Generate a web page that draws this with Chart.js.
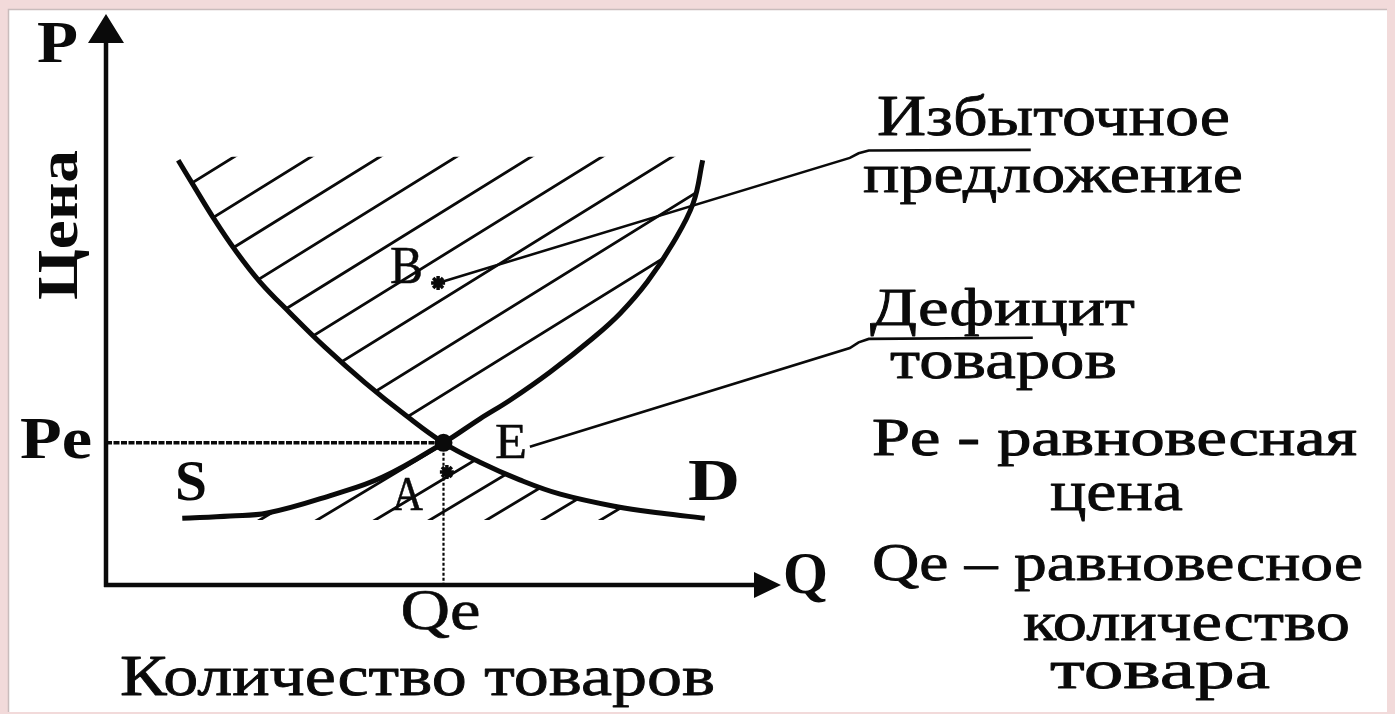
<!DOCTYPE html>
<html><head><meta charset="utf-8">
<script src="https://cdn.jsdelivr.net/npm/chart.js@4.4.1/dist/chart.umd.min.js"></script>
<style>html,body{margin:0;padding:0;background:#f2dada;overflow:hidden}canvas{display:block}</style>
</head><body>
<canvas id="c" width="1395" height="714"></canvas>
<script>
// ---------- data (Q = quantity, P = price) ----------
const demandQ = [1.07, 1.32, 1.59, 1.91, 2.28, 2.73, 3.24, 3.84, 4.43, 5.00, 5.54, 6.13, 6.73, 7.57, 8.21, 8.87];
const demandP = [7.44, 6.95, 6.43, 5.87, 5.31, 4.76, 4.17, 3.54, 2.98, 2.49, 2.15, 1.84, 1.59, 1.37, 1.26, 1.17];
const supplyQ = [1.13, 1.84, 2.39, 3.36, 4.10, 5.00, 5.54, 5.99, 6.58, 7.22, 7.62, 8.02, 8.40, 8.70, 8.84];
const supplyP = [1.17, 1.21, 1.26, 1.58, 1.89, 2.49, 2.91, 3.24, 3.73, 4.33, 4.76, 5.31, 5.99, 6.69, 7.44];
const Qe = 5.00, Pe = 2.49;
const pointBQ = 4.92, pointBP = 5.29;
const pointAQ = 5.05, pointAP = 1.98;
const axisMaxQ = 10, axisMaxP = 10;
// hatch lines: Q where each line meets the top / bottom edge of its hatched zone
const surplusHatchQ = [1.90, 3.04, 4.06, 5.19, 6.30, 7.35, 8.39, 9.60, 10.68];
const surplusTopP = 7.50;
const deficitHatchQ = [2.28, 3.13, 3.99, 4.80, 5.64, 6.47, 7.33];
const deficitBottomP = 1.14;
// leader lines from B and E to the captions
const leaderBQ = [4.92, 11.02, 11.15, 11.30, 13.70];
const leaderBP = [5.29, 7.48, 7.56, 7.61, 7.62];
const leaderEQ = [6.28, 11.02, 11.15, 11.30, 13.73];
const leaderEP = [2.42, 4.15, 4.25, 4.31, 4.33];

// ---------- layout ----------
const W = 1395, H = 714;
const ORIGIN_X = 106, ORIGIN_Y = 585, PX_Q = 67.5, PX_P = 57.1;
const FONT = '"Liberation Serif", "DejaVu Serif", serif';
const INK = '#0a0a0a';

const zip = (xs, ys) => xs.map((x, i) => ({x, y: ys[i]}));

function follow(ctx, pts, from, to) {
  if (to > from) {
    for (let i = from + 1; i <= to; i++) {
      const a = pts[i - 1], b = pts[i];
      ctx.bezierCurveTo(a.cp2x ?? a.x, a.cp2y ?? a.y, b.cp1x ?? b.x, b.cp1y ?? b.y, b.x, b.y);
    }
  } else {
    for (let i = from - 1; i >= to; i--) {
      const a = pts[i + 1], b = pts[i];
      ctx.bezierCurveTo(a.cp1x ?? a.x, a.cp1y ?? a.y, b.cp2x ?? b.x, b.cp2y ?? b.y, b.x, b.y);
    }
  }
}

function fitText(ctx, txt, left, base, width, size, bold, heavy) {
  ctx.font = (bold ? 'bold ' : '') + size + 'px ' + FONT;
  const w = ctx.measureText(txt).width;
  ctx.save();
  ctx.translate(left, base);
  ctx.scale(width / w, 1);
  ctx.fillText(txt, 0, 0);
  if (heavy) { ctx.lineWidth = heavy; ctx.lineJoin = 'round'; ctx.strokeText(txt, 0, 0); }
  ctx.restore();
}

const backgroundPlugin = {
  id: 'bg',
  beforeDraw(chart) {
    const ctx = chart.ctx;
    ctx.save();
    ctx.fillStyle = '#f2dada';
    ctx.fillRect(0, 0, W, H);
    ctx.fillStyle = '#ffffff';
    ctx.fillRect(8, 9, 1379, 703);
    ctx.strokeStyle = '#c9bcbc';
    ctx.lineWidth = 1.5;
    ctx.beginPath();
    ctx.moveTo(8.5, 712); ctx.lineTo(8.5, 9.5); ctx.lineTo(1387, 9.5);
    ctx.stroke();
    ctx.restore();
  }
};

const IDX_DEMAND = 3, IDX_SUPPLY = 4;

const hatchPlugin = {
  id: 'hatch',
  beforeDatasetsDraw(chart) {
    const ctx = chart.ctx, xs = chart.scales.x, ys = chart.scales.y;
    const D = chart.getDatasetMeta(IDX_DEMAND).data;
    const S = chart.getDatasetMeta(IDX_SUPPLY).data;
    const iED = demandQ.indexOf(Qe), iES = supplyQ.indexOf(Qe);
    const px = q => xs.getPixelForValue(q), py = p => ys.getPixelForValue(p);
    ctx.save();
    ctx.strokeStyle = INK; ctx.lineWidth = 2.8; ctx.lineCap = 'round';

    // surplus zone (above both curves)
    const slopeU = 0.62 * PX_Q / PX_P;
    const yTop = py(surplusTopP);
    ctx.save();
    ctx.beginPath();
    ctx.moveTo(D[0].x, yTop); ctx.lineTo(D[0].x, D[0].y);
    follow(ctx, D, 0, iED);
    follow(ctx, S, iES, S.length - 1);
    ctx.lineTo(S[S.length - 1].x, yTop);
    ctx.closePath();
    ctx.clip();
    ctx.beginPath();
    surplusHatchQ.forEach(q => {
      ctx.moveTo(px(q + 0.5), py(surplusTopP + 0.5 * slopeU));
      ctx.lineTo(px(q - 9), py(surplusTopP - 9 * slopeU));
    });
    ctx.stroke();
    ctx.restore();

    // deficit zone (below both curves)
    const slopeL = 0.60 * PX_Q / PX_P;
    const yBot = py(deficitBottomP);
    ctx.save();
    ctx.beginPath();
    ctx.moveTo(S[0].x, yBot); ctx.lineTo(S[0].x, S[0].y);
    follow(ctx, S, 0, iES);
    follow(ctx, D, iED, D.length - 1);
    ctx.lineTo(D[D.length - 1].x, yBot);
    ctx.closePath();
    ctx.clip();
    ctx.beginPath();
    deficitHatchQ.forEach(q => {
      ctx.moveTo(px(q - 0.5), py(deficitBottomP - 0.5 * slopeL));
      ctx.lineTo(px(q + 6), py(deficitBottomP + 6 * slopeL));
    });
    ctx.stroke();
    ctx.restore();

    // axes with arrows
    const x0 = px(0), y0 = py(0), xT = px(axisMaxQ), yT = py(axisMaxP);
    ctx.lineWidth = 4.5; ctx.lineCap = 'butt';
    ctx.beginPath();
    ctx.moveTo(x0, y0 + 2); ctx.lineTo(x0, yT + 26);
    ctx.moveTo(x0 - 2, y0); ctx.lineTo(xT - 24, y0);
    ctx.stroke();
    ctx.fillStyle = INK;
    ctx.beginPath();
    ctx.moveTo(x0, yT); ctx.lineTo(x0 - 18, yT + 29); ctx.lineTo(x0 + 18, yT + 29); ctx.closePath();
    ctx.moveTo(xT, y0); ctx.lineTo(xT - 27, y0 - 13); ctx.lineTo(xT - 27, y0 + 13); ctx.closePath();
    ctx.fill();
    ctx.restore();
  }
};

const textPlugin = {
  id: 'texts',
  afterDraw(chart) {
    const ctx = chart.ctx, xs = chart.scales.x, ys = chart.scales.y;
    const xPe = xs.getPixelForValue(0), yPe = ys.getPixelForValue(Pe);
    const xQe = xs.getPixelForValue(Qe), yQ0 = ys.getPixelForValue(0);
    ctx.save();
    ctx.fillStyle = INK; ctx.strokeStyle = INK;
    ctx.textBaseline = 'alphabetic';
    // axis names
    fitText(ctx, 'P', 37, 62, 41, 60, true);
    fitText(ctx, 'Q', 783, 593, 45, 60, true);
    ctx.save();
    ctx.translate(77, 300); ctx.rotate(-Math.PI / 2);
    fitText(ctx, 'Цена', 0, 0, 150, 56, true);
    ctx.restore();
    fitText(ctx, 'Pe', xPe - 86, yPe + 15, 72, 60, true);
    fitText(ctx, 'Qe', xQe - 43, yQ0 + 44, 80, 56, false, 0.6);
    fitText(ctx, 'Количество товаров', 120, 695, 595, 58, false, 0.8);
    // curve / point letters
    fitText(ctx, 'S', 175, 500, 32, 56, true);
    fitText(ctx, 'D', 688, 500, 52, 60, true);
    fitText(ctx, 'E', 495, 458, 32, 50, false, 0.5);
    fitText(ctx, 'A', 392, 510, 31, 48, false, 0.5);
    fitText(ctx, 'B', 390, 283, 33, 52, false, 0.5);
    // captions on the right
    fitText(ctx, 'Избыточное', 877, 135, 353, 57, false, 0.8);
    fitText(ctx, 'предложение', 863, 192, 380, 54, false, 0.8);
    fitText(ctx, 'Дефицит', 870, 325, 265, 53, false, 0.8);
    fitText(ctx, 'товаров', 890, 378, 227, 55, false, 0.8);
    fitText(ctx, 'Pe - равновесная', 872, 455, 485, 52, false, 1.0);
    fitText(ctx, 'цена', 1050, 510, 133, 56, false, 0.8);
    fitText(ctx, 'Qe – равновесное', 872, 580, 491, 52, false, 0.8);
    fitText(ctx, 'количество', 1023, 640, 327, 54, false, 0.8);
    fitText(ctx, 'товара', 1050, 688, 220, 54, false, 0.8);
    ctx.restore();
  }
};

const lineBase = {showLine: true, pointRadius: 0, borderColor: INK, fill: false, clip: false};

new Chart(document.getElementById('c'), {
  type: 'scatter',
  data: {
    datasets: [
      {label: 'E', data: [{x: Qe, y: Pe}], pointRadius: 9, pointBackgroundColor: INK, pointBorderWidth: 0, showLine: false, clip: false},
      {label: 'B', data: [{x: pointBQ, y: pointBP}], pointStyle: 'star', pointRadius: 7, pointBorderColor: INK, pointBorderWidth: 3.5, showLine: false, clip: false},
      {label: 'A', data: [{x: pointAQ, y: pointAP}], pointStyle: 'star', pointRadius: 7, pointBorderColor: INK, pointBorderWidth: 3.5, showLine: false, clip: false},
      Object.assign({label: 'D', data: zip(demandQ, demandP), borderWidth: 5, tension: 0.4}, lineBase),
      Object.assign({label: 'S', data: zip(supplyQ, supplyP), borderWidth: 5, tension: 0.4}, lineBase),
      Object.assign({label: 'Pe', data: [{x: 0, y: Pe}, {x: Qe, y: Pe}], borderWidth: 3.5, borderDash: [6, 1.5]}, lineBase),
      Object.assign({label: 'Qe', data: [{x: Qe, y: Pe}, {x: Qe, y: 0}], borderWidth: 2.2, borderDash: [3, 2]}, lineBase),
      Object.assign({label: 'leaderB', data: zip(leaderBQ, leaderBP), borderWidth: 2.6, tension: 0}, lineBase),
      Object.assign({label: 'leaderE', data: zip(leaderEQ, leaderEP), borderWidth: 2.6, tension: 0}, lineBase)
    ]
  },
  options: {
    responsive: false,
    animation: false,
    events: [],
    layout: {padding: 0, autoPadding: false},
    plugins: {legend: {display: false}, tooltip: {enabled: false}},
    scales: {
      x: {type: 'linear', display: false, min: -ORIGIN_X / PX_Q, max: (W - ORIGIN_X) / PX_Q},
      y: {type: 'linear', display: false, min: -(H - ORIGIN_Y) / PX_P, max: ORIGIN_Y / PX_P}
    }
  },
  plugins: [backgroundPlugin, hatchPlugin, textPlugin]
});
</script>
</body></html>
